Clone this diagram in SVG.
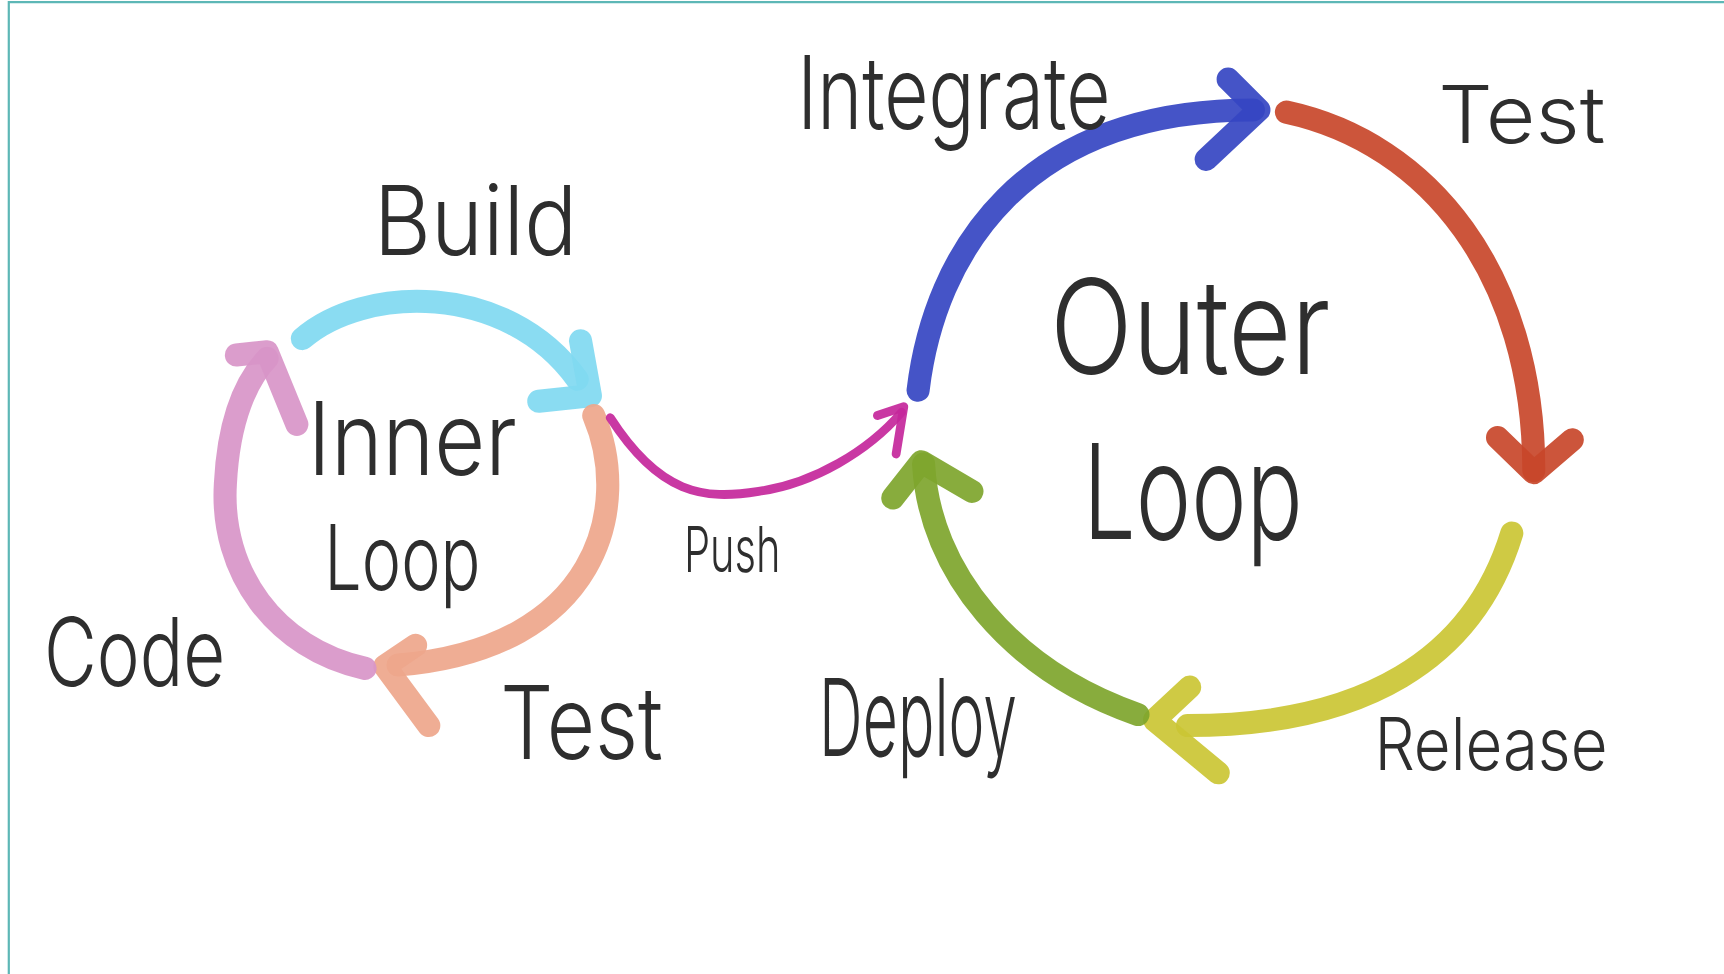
<svg xmlns="http://www.w3.org/2000/svg" width="1724" height="974" viewBox="0 0 1724 974">
<style>
.lbl{font-family:Inter,"Liberation Sans","DejaVu Sans",sans-serif;font-weight:300;fill:#2e2e2e}
.s{fill:none;stroke-linecap:round;stroke-linejoin:round;stroke-width:21;opacity:0.92}
.cy{stroke:#80d9f1}.sa{stroke:#eea68b}.pk{stroke:#d895c8}
.bl{stroke:#3545c2}.rd{stroke:#c8472a}.ye{stroke:#cbc634}.gr{stroke:#7ea52c}
.mg{stroke:#c4279b;stroke-width:8}
</style>
<rect width="1724" height="974" fill="#ffffff"/>
<g transform="scale(1.0995 1.0993)">
<path d="M8,890 V2 H1570" fill="none" stroke="#5db7b6" stroke-width="2"/>
<g id="connectors">
<g id="inner-build"><path class="s cy" d="M275,308 C330,260 460,255 525,345"/><polyline class="s cy" points="528,310 537,360 490,365"/></g>
<g id="inner-test"><path class="s sa" d="M540,378 C575,460 545,590 362,605"/><polyline class="s sa" points="378,587 350,606 390,660"/></g>
<g id="inner-code"><path class="s pk" d="M332,608 C250,590 200,520 205,440 C208,380 225,345 243,326"/><polyline class="s pk" points="215,323 243,320 270,386"/></g>
<g id="push"><path class="s mg" d="M555,380 C600,450 640,455 690,447 C740,440 790,410 820,375"/><polyline class="s mg" points="798,378 822,370 815,413"/></g>
<g id="outer-integrate"><path class="s bl" d="M835,355 C850,230 930,100 1140,100"/><polyline class="s bl" points="1117,72 1145,100 1097,145"/></g>
<g id="outer-test"><path class="s rd" d="M1170,102 C1300,130 1395,250 1395,428"/><polyline class="s rd" points="1362,398 1395,430 1430,400"/></g>
<g id="outer-release"><path class="s ye" d="M1375,485 C1340,600 1240,660 1080,660"/><polyline class="s ye" points="1082,625 1050,655 1108,703"/></g>
<g id="outer-deploy"><path class="s gr" d="M1035,650 C920,610 845,520 840,422"/><polyline class="s gr" points="812,453 838,420 884,447"/></g>
</g>
<g id="label-build"><text class="lbl" x="340" y="232" font-size="88" textLength="185" lengthAdjust="spacingAndGlyphs">Build</text></g>
<g id="label-inner-loop"><text class="lbl" x="280" y="432" font-size="92" textLength="190" lengthAdjust="spacingAndGlyphs">Inner</text><text class="lbl" x="295" y="537" font-size="82" textLength="142" lengthAdjust="spacingAndGlyphs">Loop</text></g>
<g id="label-code"><text class="lbl" x="40" y="624" font-size="86" textLength="165" lengthAdjust="spacingAndGlyphs">Code</text></g>
<g id="label-inner-test"><text class="lbl" x="455" y="690" font-size="92" textLength="148" lengthAdjust="spacingAndGlyphs">Test</text></g>
<g id="label-push"><text class="lbl" x="622" y="520" font-size="58" textLength="88" lengthAdjust="spacingAndGlyphs">Push</text></g>
<g id="label-integrate"><text class="lbl" x="725" y="117" font-size="92" textLength="285" lengthAdjust="spacingAndGlyphs">Integrate</text></g>
<g id="label-outer-test"><text class="lbl" x="1308" y="130" font-size="72" textLength="152" lengthAdjust="spacingAndGlyphs">Test</text></g>
<g id="label-outer-loop"><text class="lbl" x="955" y="340" font-size="120" textLength="255" lengthAdjust="spacingAndGlyphs">Outer</text><text class="lbl" x="985" y="490" font-size="120" textLength="200" lengthAdjust="spacingAndGlyphs">Loop</text></g>
<g id="label-deploy"><text class="lbl" x="745" y="688" font-size="98" textLength="180" lengthAdjust="spacingAndGlyphs">Deploy</text></g>
<g id="label-release"><text class="lbl" x="1250" y="700" font-size="66" textLength="212" lengthAdjust="spacingAndGlyphs">Release</text></g>
</g>
</svg>
